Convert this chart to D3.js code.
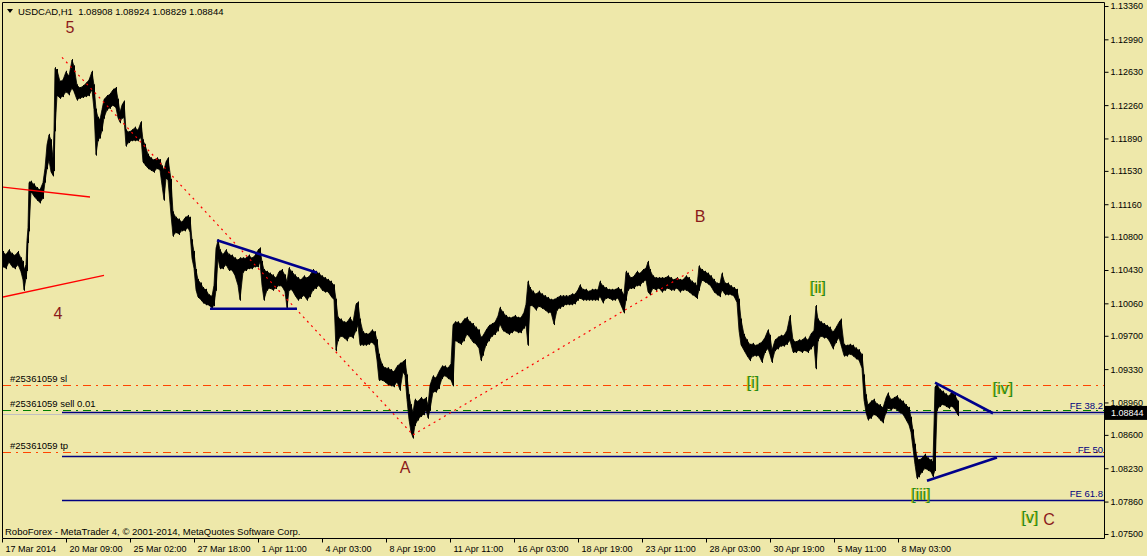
<!DOCTYPE html>
<html><head><meta charset="utf-8">
<script src="https://cdn.jsdelivr.net/npm/d3@7"></script>
<style>body{margin:0;background:#eee8aa;} svg{display:block;}</style>
</head><body>
<svg id="c" width="1147" height="556"></svg>
<script>
// ---------- DATA ----------
const chartTitle = "USDCAD,H1  1.08908 1.08924 1.08829 1.08844";
const footerText = "RoboForex - MetaTrader 4, \u00A9 2001-2014, MetaQuotes Software Corp.";

const barIndex = [1,4,7,10,13,16,19,21,22,24,
25,26,27,29,32,35,38,41,43,45,
47,49,51,52,53,55,58,61,64,67,
70,72,75,78,81,84,87,90,92,94,
96,98,100,102,105,108,111,114,116,118,
120,122,124,127,130,133,136,139,141,143,
146,149,152,155,158,160,162,164,166,169,
171,174,177,180,183,186,188,190,192,194,
196,199,201,204,207,210,212,214,216,218,
221,224,227,230,233,236,238,241,244,247,
250,253,256,258,260,262,265,268,271,274,
277,280,283,285,287,290,293,296,299,302,
305,308,311,314,317,320,323,326,329,332,
334,336,339,342,345,348,351,354,356,358,
361,364,367,370,373,375,377,380,383,386,
389,392,395,398,401,403,405,407,409,411,
413,416,419,422,424,426,428,431,434,437,
440,443,446,449,451,453,456,459,462,465,
468,471,474,477,479,481,484,487,490,493,
496,498,501,504,507,510,513,516,519,522,
524,526,528,531,534,537,540,543,546,549,
552,555,558,561,564,567,570,573,576,578,
581,584,587,590,593,596,598,601,604,607,
610,613,616,619,622,624,626,629,632,635,
638,641,644,646,648,651,654,657,660,663,
666,669,672,675,678,681,684,687,690,693,
695,697,700,703,706,709,712,715,718,720,
723,726,729,732,735,737,739,742,745,748,
751,754,757,760,763,766,768,770,773,776,
779,782,785,788,791,794,797,800,803,806,
809,812,814,816,819,822,825,828,831,834,
837,839,842,845,848,851,854,857,860,862,
864,866,869,872,875,878,881,884,886,889,
892,895,898,901,904,907,909,911,913,915,
917,920,923,926,929,931,933,935,938,941,
944,947,950,953,956];

const barHigh = [1.1063,1.1060,1.1065,1.1061,1.1059,1.1063,1.1056,1.1052,1.1043,1.1049,
1.1076,1.1090,1.1140,1.1141,1.1138,1.1134,1.1132,1.1140,1.1156,1.1182,
1.1193,1.1187,1.1167,1.1198,1.1267,1.1265,1.1252,1.1254,1.1263,1.1258,
1.1276,1.1269,1.1248,1.1245,1.1247,1.1250,1.1254,1.1263,1.1248,1.1221,
1.1212,1.1210,1.1221,1.1232,1.1236,1.1238,1.1243,1.1245,1.1232,1.1218,
1.1226,1.1230,1.1198,1.1196,1.1198,1.1201,1.1198,1.1207,1.1187,1.1182,
1.1171,1.1167,1.1165,1.1167,1.1165,1.1158,1.1154,1.1163,1.1167,1.1143,
1.1107,1.1101,1.1099,1.1096,1.1101,1.1103,1.1101,1.1076,1.1063,1.1043,
1.1032,1.1028,1.1023,1.1021,1.1015,1.1014,1.1026,1.1067,1.1076,1.1065,
1.1060,1.1065,1.1060,1.1059,1.1056,1.1054,1.1056,1.1056,1.1056,1.1059,
1.1056,1.1059,1.1065,1.1067,1.1052,1.1043,1.1041,1.1039,1.1037,1.1034,
1.1041,1.1043,1.1037,1.1030,1.1045,1.1041,1.1037,1.1034,1.1032,1.1036,
1.1034,1.1037,1.1043,1.1041,1.1039,1.1036,1.1034,1.1032,1.1030,1.1026,
1.1010,1.0990,1.0988,1.0985,1.0985,1.0990,1.0985,1.1005,1.1007,1.0988,
1.0974,1.0972,1.0972,1.0976,1.0974,1.0965,1.0949,1.0938,1.0934,1.0934,
1.0932,1.0930,1.0936,1.0939,1.0941,1.0943,1.0926,1.0904,1.0893,1.0885,
1.0899,1.0897,1.0901,1.0899,1.0901,1.0893,1.0915,1.0925,1.0923,1.0930,
1.0936,1.0936,1.0934,1.0939,1.0982,1.0985,1.0985,1.0983,1.0988,1.0990,
1.0985,1.0983,1.0979,1.0976,1.0968,1.0970,1.0976,1.0981,1.0983,1.0985,
1.0992,1.1001,1.0996,1.0992,1.0990,1.0990,1.0992,1.0990,1.0990,1.0996,
1.1005,1.1030,1.1023,1.1019,1.1016,1.1019,1.1016,1.1014,1.1012,1.1010,
1.1010,1.1012,1.1014,1.1014,1.1014,1.1014,1.1016,1.1016,1.1021,1.1026,
1.1021,1.1021,1.1019,1.1021,1.1021,1.1021,1.1030,1.1025,1.1023,1.1021,
1.1021,1.1021,1.1023,1.1021,1.1015,1.1041,1.1039,1.1034,1.1036,1.1041,
1.1039,1.1043,1.1045,1.1052,1.1043,1.1036,1.1034,1.1034,1.1034,1.1034,
1.1036,1.1034,1.1032,1.1034,1.1032,1.1032,1.1036,1.1034,1.1030,1.1028,
1.1025,1.1047,1.1043,1.1041,1.1039,1.1036,1.1032,1.1028,1.1028,1.1039,
1.1028,1.1028,1.1025,1.1023,1.1021,1.1010,1.0988,1.0971,1.0965,1.0960,
1.0961,1.0959,1.0961,1.0963,1.0968,1.0976,1.0970,1.0954,1.0965,1.0968,
1.0970,1.0970,1.0976,1.0992,1.0965,1.0963,1.0965,1.0965,1.0968,1.0965,
1.0972,1.0976,1.1003,1.0988,1.0985,1.0983,1.0981,1.0979,1.0974,1.0979,
1.0985,1.0988,1.0960,1.0959,1.0960,1.0959,1.0956,1.0954,1.0949,1.0926,
1.0904,1.0893,1.0897,1.0899,1.0894,1.0893,1.0890,1.0901,1.0906,1.0899,
1.0901,1.0903,1.0899,1.0897,1.0893,1.0890,1.0879,1.0865,1.0849,1.0834,
1.0832,1.0834,1.0838,1.0834,1.0832,1.0830,1.0913,1.0916,1.0910,1.0908,
1.0905,1.0903,1.0908,1.0904,1.0897];

const barLow = [1.1047,1.1045,1.1052,1.1047,1.1045,1.1049,1.1041,1.1032,1.1021,1.1034,
1.1043,1.1074,1.1087,1.1130,1.1125,1.1121,1.1118,1.1123,1.1141,1.1156,
1.1165,1.1152,1.1148,1.1154,1.1198,1.1237,1.1234,1.1236,1.1241,1.1238,
1.1245,1.1241,1.1232,1.1234,1.1235,1.1236,1.1237,1.1243,1.1221,1.1171,
1.1187,1.1190,1.1198,1.1212,1.1221,1.1223,1.1226,1.1223,1.1212,1.1207,
1.1212,1.1212,1.1181,1.1185,1.1187,1.1187,1.1187,1.1190,1.1163,1.1160,
1.1156,1.1154,1.1152,1.1156,1.1154,1.1137,1.1121,1.1145,1.1143,1.1104,
1.1081,1.1085,1.1083,1.1087,1.1087,1.1090,1.1085,1.1056,1.1045,1.1021,
1.1013,1.1010,1.1007,1.1005,1.1004,1.1001,1.1004,1.1021,1.1056,1.1045,
1.1045,1.1049,1.1043,1.1043,1.1037,1.1026,1.1010,1.1041,1.1043,1.1045,
1.1045,1.1047,1.1047,1.1052,1.1026,1.1010,1.1021,1.1023,1.1021,1.1023,
1.1026,1.1025,1.1019,1.1001,1.1021,1.1021,1.1015,1.1010,1.1012,1.1015,
1.1010,1.1014,1.1021,1.1023,1.1026,1.1021,1.1019,1.1019,1.1014,1.1010,
1.0954,1.0965,1.0970,1.0968,1.0965,1.0970,1.0968,1.0976,1.0982,1.0960,
1.0960,1.0960,1.0961,1.0963,1.0959,1.0943,1.0921,1.0921,1.0919,1.0916,
1.0915,1.0914,1.0919,1.0910,1.0930,1.0926,1.0899,1.0877,1.0863,1.0857,
1.0871,1.0877,1.0881,1.0883,1.0888,1.0879,1.0888,1.0908,1.0908,1.0912,
1.0923,1.0926,1.0923,1.0921,1.0915,1.0965,1.0963,1.0961,1.0965,1.0972,
1.0968,1.0963,1.0961,1.0956,1.0943,1.0949,1.0960,1.0965,1.0970,1.0972,
1.0976,1.0983,1.0976,1.0974,1.0972,1.0974,1.0976,1.0974,1.0974,1.0979,
1.0982,1.0960,1.1004,1.1003,1.0999,1.1003,1.1001,1.0999,1.0996,1.0996,
1.0983,1.0999,1.1001,1.1003,1.1005,1.1005,1.1005,1.1006,1.1010,1.1012,
1.1010,1.1010,1.1010,1.1010,1.1010,1.1010,1.1014,1.1007,1.1012,1.1012,
1.1010,1.1010,1.1012,1.1004,1.0996,1.1010,1.1021,1.1023,1.1023,1.1026,
1.1026,1.1030,1.1032,1.1019,1.1016,1.1023,1.1021,1.1023,1.1019,1.1021,
1.1023,1.1021,1.1021,1.1023,1.1019,1.1021,1.1021,1.1019,1.1016,1.1014,
1.1012,1.1021,1.1032,1.1030,1.1028,1.1025,1.1019,1.1016,1.1014,1.1021,
1.1016,1.1016,1.1016,1.1014,1.1007,1.0976,1.0960,1.0954,1.0948,1.0943,
1.0948,1.0948,1.0948,1.0941,1.0952,1.0956,1.0949,1.0941,1.0954,1.0956,
1.0959,1.0959,1.0961,1.0965,1.0952,1.0952,1.0954,1.0952,1.0954,1.0952,
1.0956,1.0960,1.0934,1.0965,1.0970,1.0968,1.0968,1.0963,1.0956,1.0963,
1.0968,1.0960,1.0948,1.0948,1.0950,1.0948,1.0945,1.0943,1.0934,1.0899,
1.0885,1.0877,1.0879,1.0883,1.0881,1.0877,1.0874,1.0885,1.0890,1.0888,
1.0890,1.0888,1.0885,1.0883,1.0877,1.0871,1.0863,1.0845,1.0827,1.0812,
1.0814,1.0819,1.0823,1.0821,1.0819,1.0814,1.0821,1.0888,1.0892,1.0894,
1.0892,1.0890,1.0892,1.0888,1.0882];

const yTickValues = [1.0750,1.0786,1.0823,1.0860,1.0896,1.0933,1.0970,1.1006,1.1043,1.1080,1.1116,1.1153,1.1189,1.1226,1.1263,1.1299,1.1336];
const xTickIndex = [0,64,128,192,256,320,384,448,512,576,640,704,768,832,896];
const xTickLabels = ["17 Mar 2014","20 Mar 09:00","25 Mar 02:00","27 Mar 18:00","1 Apr 11:00","4 Apr 03:00","8 Apr 19:00","11 Apr 11:00","16 Apr 03:00","18 Apr 19:00","23 Apr 11:00","28 Apr 03:00","30 Apr 19:00","5 May 11:00","8 May 03:00"];

const bidPrice = 1.08844;
const orderNames = ["#25361059 sl","#25361059 sell 0.01","#25361059 tp"];
const orderPrices = [1.0915, 1.08876, 1.0841];
const orderKinds = ["stop","open","stop"];
const feNames = ["FE 38.2","FE 50","FE 61.8"];
const fePrices = [1.08856, 1.0837, 1.0788];
const feStartIndex = 60;

// trend lines: [startIndex, startPrice, endIndex, endPrice]
const redDottedLines = [[60,1.1279,411,1.0860],[411,1.0860,691,1.1043]];
const redSolidLines = [[1,1.1135,88,1.1124],[1,1.1013,102,1.1037]];
const blueLines = [[215,1.1076,315,1.1040],[208,1.1000,295,1.1000],[933,1.0918,991,1.0884],[925,1.0809,995,1.0835]];

const waveRedText = ["5","4","A","B","C"];
const waveRedIndex = [68,56,403,698,1047];
const waveRedPrice = [1.1312,1.0995,1.0824,1.1102,1.0766];
const waveGreenText = ["[i]","[ii]","[iii]","[iv]","[v]"];
const waveGreenIndex = [751,816,919,1001,1028];
const waveGreenPrice = [1.0918,1.1024,1.0794,1.0912,1.0768];

// ---------- DRAW ----------
const svg = d3.select("#c");
const BG = "#eee8aa";
const FONT = "'Liberation Sans', Arial, sans-serif";
svg.append("rect").attr("width",1147).attr("height",556).attr("fill",BG);

const x = d3.scaleLinear().domain([0,1102]).range([2,1104]);
const y = d3.scaleLinear().domain([1.075,1.1336]).range([534,6]);
const cy = v => Math.round(y(v)) + 0.5;

svg.append("defs").append("clipPath").attr("id","clip")
  .append("rect").attr("x",3).attr("y",3).attr("width",1101).attr("height",535);
const g = svg.append("g").attr("clip-path","url(#clip)");

// order levels
orderPrices.forEach((p,i)=>{
  g.append("line").attr("x1",3).attr("x2",1104).attr("y1",cy(p)).attr("y2",cy(p))
   .attr("stroke", orderKinds[i]==="open" ? "#008000" : "#ff4500")
   .attr("stroke-width",1).attr("stroke-dasharray","8,5,2,5");
});
// bid line
g.append("line").attr("x1",3).attr("x2",1104).attr("y1",cy(bidPrice)+1).attr("y2",cy(bidPrice)+1)
  .attr("stroke","#c0c0c0").attr("stroke-width",1);
// FE levels
fePrices.forEach((p,i)=>{
  g.append("line").attr("x1",x(feStartIndex)).attr("x2",1104).attr("y1",cy(p)).attr("y2",cy(p))
   .attr("stroke","#000080").attr("stroke-width",1.3);
});

// price: range band plus per-bar high-low strokes
const n = Math.min(barIndex.length, barHigh.length, barLow.length);
const bars = d3.range(n).map(i=>({i:barIndex[i], hi:barHigh[i], lo:barLow[i]}));
g.append("path").datum(bars)
  .attr("d", d3.area().x(d=>x(d.i)).y0(d=>y(d.lo)).y1(d=>y(d.hi)))
  .attr("fill","#000").attr("stroke","#000").attr("stroke-width",0.8).attr("stroke-linejoin","round");
g.selectAll("line.bar").data(bars).join("line").attr("class","bar")
  .attr("x1",d=>Math.round(x(d.i))+0.5).attr("x2",d=>Math.round(x(d.i))+0.5)
  .attr("y1",d=>y(d.hi)-1).attr("y2",d=>y(d.lo)+1)
  .attr("stroke","#000").attr("stroke-width",1);

// trend lines
redDottedLines.forEach(l=>{
  g.append("line").attr("x1",x(l[0])).attr("y1",y(l[1])).attr("x2",x(l[2])).attr("y2",y(l[3]))
   .attr("stroke","#ff0000").attr("stroke-width",1.2).attr("stroke-dasharray","2,4");
});
redSolidLines.forEach(l=>{
  g.append("line").attr("x1",x(l[0])).attr("y1",y(l[1])).attr("x2",x(l[2])).attr("y2",y(l[3]))
   .attr("stroke","#ff0000").attr("stroke-width",1.3);
});
blueLines.forEach(l=>{
  g.append("line").attr("x1",x(l[0])).attr("y1",y(l[1])).attr("x2",x(l[2])).attr("y2",y(l[3]))
   .attr("stroke","#00008b").attr("stroke-width",2.6);
});

// order labels
orderNames.forEach((t,i)=>{
  svg.append("text").attr("x",10).attr("y",y(orderPrices[i])-3).text(t)
    .attr("font-family",FONT).attr("font-size",9.5).attr("fill","#000");
});
feNames.forEach((t,i)=>{
  svg.append("text").attr("x",1103).attr("y",y(fePrices[i])-3).text(t)
    .attr("text-anchor","end").attr("font-family",FONT).attr("font-size",9.5).attr("fill","#000080");
});

// wave labels
waveRedText.forEach((t,i)=>{
  svg.append("text").attr("x",x(waveRedIndex[i])).attr("y",y(waveRedPrice[i])).text(t)
    .attr("text-anchor","middle").attr("dominant-baseline","central")
    .attr("font-family",FONT).attr("font-size",16).attr("fill","#8b1a1a");
});
waveGreenText.forEach((t,i)=>{
  const tx = x(waveGreenIndex[i]), ty = y(waveGreenPrice[i]);
  svg.append("text").attr("x",tx-0.8).attr("y",ty).text(t)
    .attr("text-anchor","middle").attr("dominant-baseline","central")
    .attr("font-family",FONT).attr("font-size",16).attr("fill","#d6c200");
  svg.append("text").attr("x",tx).attr("y",ty).text(t)
    .attr("text-anchor","middle").attr("dominant-baseline","central")
    .attr("font-family",FONT).attr("font-size",16).attr("fill","#1f8a1f");
});

// frame
svg.append("path").attr("d","M2.5,538.5V2.5H1104.5V538.5H2.5").attr("fill","none").attr("stroke","#000").attr("stroke-width",1);

// right axis
const ya = svg.append("g").attr("transform","translate(1104.5,0)")
  .call(d3.axisRight(y).tickValues(yTickValues).tickSize(4).tickSizeOuter(0).tickFormat(d3.format(".5f")));
ya.select(".domain").remove();
ya.selectAll(".tick line").attr("stroke","#000");
ya.selectAll(".tick text").attr("x",6).attr("font-family",FONT).attr("font-size",9).attr("fill","#000");

// bottom axis
const xa = svg.append("g").attr("transform","translate(0,538.5)")
  .call(d3.axisBottom(x).tickValues(xTickIndex).tickSize(4).tickSizeOuter(0).tickFormat((d,i)=>xTickLabels[i]));
xa.select(".domain").remove();
xa.selectAll(".tick line").attr("stroke","#000");
xa.selectAll(".tick text").attr("text-anchor","start").attr("x",3).attr("y",7)
  .attr("font-family",FONT).attr("font-size",9).attr("fill","#000");

// bid price tag
svg.append("rect").attr("x",1105).attr("y",y(bidPrice)-7).attr("width",42).attr("height",14).attr("fill","#000");
svg.append("text").attr("x",1111).attr("y",y(bidPrice)).attr("dominant-baseline","central").text(d3.format(".5f")(bidPrice))
  .attr("font-family",FONT).attr("font-size",9).attr("fill","#fff");

// title
svg.append("path").attr("d","M7,9L13,9L10,13Z").attr("fill","#000");
svg.append("text").attr("x",18).attr("y",15).text(chartTitle)
  .attr("font-family",FONT).attr("font-size",9.5).attr("fill","#000").style("white-space","pre");

// footer
svg.append("text").attr("x",5).attr("y",535).text(footerText)
  .attr("font-family",FONT).attr("font-size",9.5).attr("fill","#000");
</script>
</body></html>
